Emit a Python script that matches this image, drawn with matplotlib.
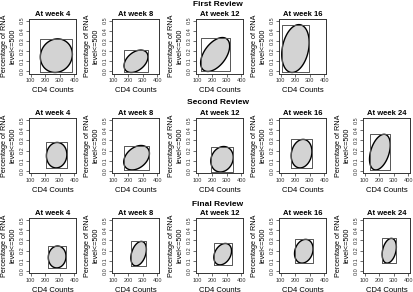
import numpy as np
import matplotlib
matplotlib.use("Agg")
import matplotlib.pyplot as plt

plt.rcParams['font.family'] = ['Liberation Sans', 'DejaVu Sans']

reviews = ["First Review", "Second Review", "Final Review"]
weeks = [["At week 4", "At week 8", "At week 12", "At week 16"],
         ["At week 4", "At week 8", "At week 12", "At week 16", "At week 24"],
         ["At week 4", "At week 8", "At week 12", "At week 16", "At week 24"]]

# bounding boxes of CD4 counts (x) and percentage RNA<=500 (y), plus correlation
cd4_low = [[166, 171, 120, 107],
           [208, 169, 190, 172, 133],
           [221, 218, 211, 195, 220]]
cd4_high = [[387, 336, 320, 296],
            [349, 346, 345, 315, 276],
            [343, 325, 333, 323, 318]]
rna_low = [[-0.01, -0.01, 0.0, -0.01],
           [0.03, 0.01, -0.01, 0.03, 0.01],
           [0.03, 0.05, 0.06, 0.077, 0.077]]
rna_high = [[0.32, 0.21, 0.333, 0.46],
            [0.28, 0.25, 0.24, 0.31, 0.36],
            [0.245, 0.29, 0.27, 0.31, 0.32]]
corr = [[0.08, 0.4, 0.5, 0.25],
        [0.05, 0.35, 0.15, 0.15, 0.4],
        [0.05, 0.35, 0.3, 0.2, 0.3]]

xticks = [100, 200, 300, 400]
yticks = [0.0, 0.1, 0.2, 0.3, 0.4, 0.5]
ytick_labels = ["0.0", "0.1", "0.2", "0.3", "0.4", "0.5"]

W, H = 413, 292
fig = plt.figure(figsize=(W / 100, H / 100), dpi=100)
col_left = [29, 112, 196, 279, 363]
row_top = [18.5, 118, 218]
review_y = [4, 102, 205]
bw, bh = 47, 55

t = np.linspace(0, 2 * np.pi, 200)
for r in range(3):
    fig.text(218 / W, 1 - review_y[r] / H, reviews[r], ha='center', va='center',
             fontsize=6, fontweight='bold')
    for c in range(len(weeks[r])):
        L, T = col_left[c], row_top[r]
        ax = fig.add_axes([L / W, 1 - (T + bh) / H, bw / W, bh / H])
        x0, x1 = cd4_low[r][c], cd4_high[r][c]
        y0, y1 = rna_low[r][c], rna_high[r][c]
        cx, cy = (x0 + x1) / 2, (y0 + y1) / 2
        a, b = (x1 - x0) / 2, (y1 - y0) / 2
        d = np.arccos(corr[r][c])
        ex = cx + a * np.cos(t + d / 2)
        ey = cy + b * np.cos(t - d / 2)
        ax.fill(ex, ey, facecolor='#d3d3d3', edgecolor='black', lw=1.0, zorder=2)
        ax.plot([x0, x1, x1, x0, x0], [y0, y0, y1, y1, y0], color='#555555', lw=0.7, zorder=3)
        ax.set_xlim(88, 412)
        ax.set_ylim(-0.02, 0.52)
        ax.set_xticks(xticks)
        ax.set_xticklabels([str(v) for v in xticks], fontsize=4)
        ax.set_yticks(yticks)
        ax.set_yticklabels(ytick_labels, fontsize=4, rotation=90, va='center')
        ax.tick_params(direction='out', length=2.2, width=0.5, pad=1.2, colors='#333333')
        for s in ax.spines.values():
            s.set_linewidth(0.7)
            s.set_color('#333333')
        ax.set_title(weeks[r][c], fontsize=5.5, fontweight='bold', pad=2)
        ax.text(0.5, -17 / bh, "CD4 Counts", transform=ax.transAxes, ha='center',
                va='center', fontsize=5.5)
        ax.text(-20 / bw, 0.5, "Percentage of RNA\nlevel<=500", transform=ax.transAxes,
                ha='center', va='center', rotation=90, fontsize=5.2, linespacing=1.25)

fig.savefig("out.png", dpi=100)
